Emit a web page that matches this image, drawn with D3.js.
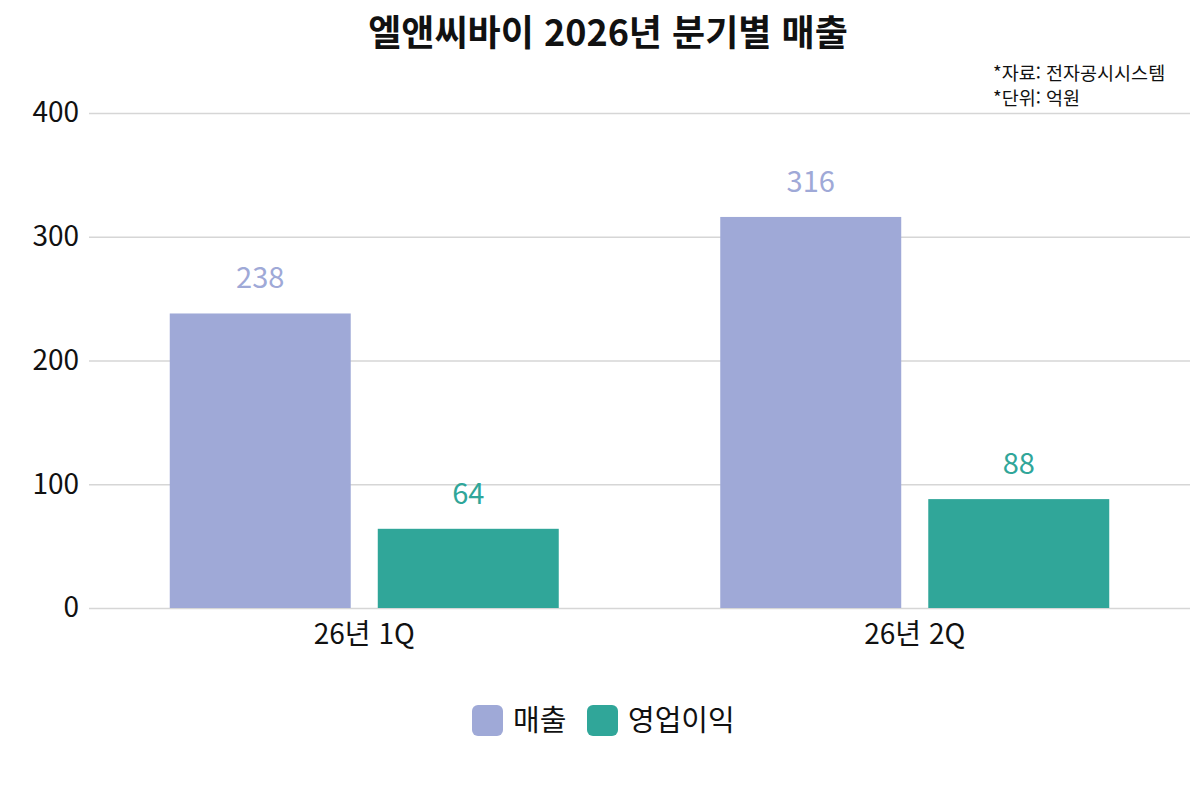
<!DOCTYPE html>
<html lang="ko">
<head>
<meta charset="UTF-8">
<title>엘앤씨바이 2026년 분기별 매출</title>
<script src="https://d3js.org/d3.v7.min.js"></script>
<style>
  body { margin: 0; background: #fff; font-family: "Noto Sans CJK KR", "Noto Sans", sans-serif; }
  svg text { font-family: "Noto Sans CJK KR", "Noto Sans", sans-serif; }
  .grid line { stroke: #d6d6d6; stroke-width: 1.5; }
  .grid path { display: none; }
  .yaxis text { font-size: 28px; fill: #111; }
  .xaxis text { font-size: 28px; fill: #111; }
</style>
</head>
<body>
<div id="chart"></div>
<script>
const categories = ["26년 1Q", "26년 2Q"];
const seriesNames = ["매출", "영업이익"];
const revenue = [238, 316];
const operatingProfit = [64, 88];
const yTicks = [0, 100, 200, 300, 400];
const colors = ["#9fa9d7", "#30a699"];

const W = 1200, H = 800;
const plot = {left: 89, right: 1190, top: 113, bottom: 608};

const svg = d3.select("#chart").append("svg")
  .attr("width", W).attr("height", H);

const rows = categories.map((c, i) => ({cat: c, values: [revenue[i], operatingProfit[i]]}));

const x0 = d3.scaleBand().domain(categories).range([plot.left, plot.right]);
const x1 = d3.scaleBand().domain(seriesNames)
  .range([80.75, x0.bandwidth() - 80.75]).paddingInner(0.13);
const y = d3.scaleLinear().domain([0, 400]).range([plot.bottom, plot.top]);

// gridlines
svg.append("g").attr("class", "grid")
  .attr("transform", "translate(" + plot.left + ",0)")
  .call(d3.axisLeft(y).tickValues(yTicks).tickSize(-(plot.right - plot.left)).tickFormat(""));

// y labels
svg.append("g").attr("class", "yaxis")
  .attr("transform", "translate(" + (plot.left - 10) + ",0)")
  .call(d3.axisLeft(y).tickValues(yTicks).tickSize(0))
  .call(g => g.select(".domain").remove())
  .selectAll("text").attr("dy", "0.32em").attr("x", 0);

// bars
const groups = svg.selectAll(".grp").data(rows).enter().append("g")
  .attr("transform", d => "translate(" + x0(d.cat) + ",0)");

groups.selectAll("rect").data(d => d.values.map((v, i) => ({name: seriesNames[i], v, i})))
  .enter().append("rect")
  .attr("x", d => x1(d.name))
  .attr("y", d => y(d.v))
  .attr("width", x1.bandwidth())
  .attr("height", d => y(0) - y(d.v))
  .attr("fill", d => colors[d.i]);

groups.selectAll(".lbl").data(d => d.values.map((v, i) => ({name: seriesNames[i], v, i})))
  .enter().append("text")
  .attr("x", d => x1(d.name) + x1.bandwidth() / 2)
  .attr("y", d => y(d.v) - 25)
  .attr("text-anchor", "middle")
  .attr("font-size", 29)
  .attr("fill", d => colors[d.i])
  .text(d => d.v);

// x axis labels
svg.append("g").attr("class", "xaxis")
  .attr("transform", "translate(0," + plot.bottom + ")")
  .call(d3.axisBottom(x0).tickSize(0).tickPadding(16))
  .call(g => g.select(".domain").remove());

// title
svg.append("text")
  .attr("x", 608).attr("y", 46)
  .attr("text-anchor", "middle")
  .attr("font-size", 36).attr("font-weight", "bold")
  .attr("fill", "#111")
  .text("엘앤씨바이 2026년 분기별 매출");

// source note
svg.append("text").attr("x", 993).attr("y", 80).attr("font-size", 18.5).attr("fill", "#111")
  .text("*자료: 전자공시시스템");
svg.append("text").attr("x", 993).attr("y", 105).attr("font-size", 18.5).attr("fill", "#111")
  .text("*단위: 억원");

// legend
const legendX = [472, 587];
const legend = svg.selectAll(".leg").data(seriesNames).enter().append("g")
  .attr("transform", (d, i) => "translate(" + legendX[i] + ",705)");
legend.append("rect")
  .attr("width", 31).attr("height", 31).attr("rx", 6)
  .attr("fill", (d, i) => colors[i]);
legend.append("text")
  .attr("x", 41).attr("y", 15.5).attr("dy", "0.35em")
  .attr("font-size", 29).attr("fill", "#111")
  .text(d => d);
</script>
</body>
</html>
